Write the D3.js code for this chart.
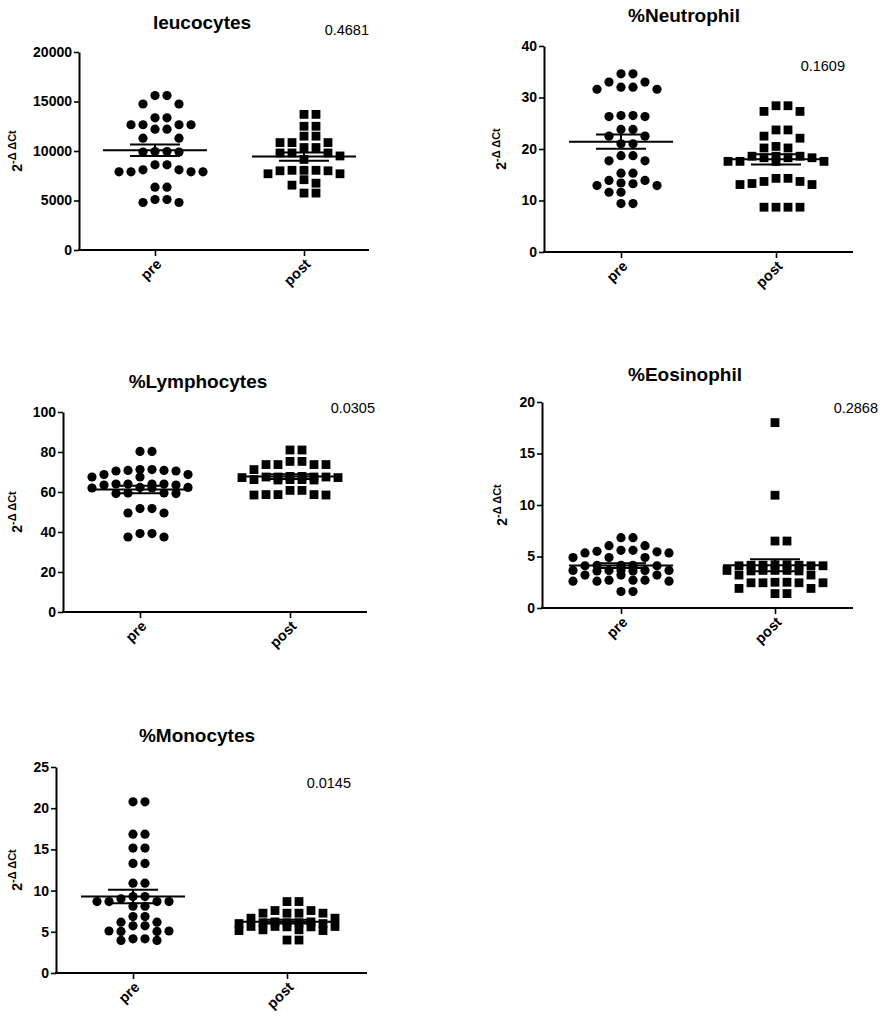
<!DOCTYPE html>
<html>
<head>
<meta charset="utf-8">
<script src="https://cdn.jsdelivr.net/npm/d3@7"></script>
<style>
  body { margin: 0; background: #fff; }
  svg { display: block; font-family: "Liberation Sans", Arial, sans-serif; }
</style>
</head>
<body>
<div id="chart"></div>
<script>
// ── Data ──────────────────────────────────────────────────────────────────
const GROUPS   = ['pre', 'post'];
const TITLES   = ['leucocytes', '%Neutrophil', '%Lymphocytes', '%Eosinophil', '%Monocytes'];
const P_VALUES = ['0.4681', '0.1609', '0.0305', '0.2868', '0.0145'];
const Y_MAX    = [20000, 40, 100, 20, 25];
const Y_TICKS  = [
  [0, 5000, 10000, 15000, 20000],
  [0, 10, 20, 30, 40],
  [0, 20, 40, 60, 80, 100],
  [0, 5, 10, 15, 20],
  [0, 5, 10, 15, 20, 25],
];

const leucoPre = [15600, 15600, 14750, 14750, 13350, 13350, 12650, 12650, 12650, 12650,
  12200, 12200, 11300, 11300, 9950, 9950, 9900, 9900, 8600, 8600, 8100, 8100,
  7900, 7900, 7900, 7900, 6350, 6350, 5100, 5100, 4800, 4800];
const leucoPost = [13700, 13700, 12500, 12500, 11500, 11500, 10850, 10850, 10850,
  10350, 10350, 9800, 9800, 9800, 9500, 9150, 8050, 8050, 8050, 8000, 8000,
  7700, 7700, 7100, 6750, 6550, 5750, 5750];

const neutroPre = [34.6, 34.6, 33.0, 33.0, 32.0, 32.0, 31.6, 31.6, 26.5, 26.5, 26.3, 26.3,
  23.8, 23.8, 22.5, 22.5, 21.0, 21.0, 18.7, 18.7, 17.7, 17.7, 15.3, 15.3,
  13.9, 13.9, 13.25, 12.9, 12.9, 13.4, 11.6, 11.6, 9.4, 9.4];
const neutroPost = [28.4, 28.4, 27.3, 27.3, 23.7, 23.7, 22.5, 22.1, 20.2, 20.5, 20.2,
  18.6, 18.6, 18.3, 18.3, 18.3, 18.6, 17.6, 17.6, 17.6, 17.6, 14.3, 14.3,
  13.7, 13.7, 13.1, 13.1, 13.3, 8.7, 8.7, 8.7, 8.7];

const lymphoPre = [80.3, 80.3, 71.2, 70.8, 70.8, 70.5, 70.5, 71.2, 68.7, 68.7, 67.5, 67.5,
  64, 64, 64, 64, 63.5, 63.5, 62.3, 62.3, 62, 62, 59.2, 59.2, 59.5, 59.5,
  51.7, 51.7, 49.5, 49.5, 39.2, 39.2, 37.5, 37.5];
const lymphoPost = [81, 81, 75.3, 75.3, 73.7, 73.7, 73.7, 73.7, 71.2, 67.8, 67.8,
  67.5, 67.5, 67.5, 67.5, 67.2, 67.2, 66.2, 66.2, 66, 66, 66.2, 60.8, 60.8,
  58.7, 58.7, 58.5, 58.5, 58.7];

const eosinoPre = [6.83, 6.83, 6.05, 6.05, 5.6, 5.6, 5.45, 5.35, 5.35, 5.5, 4.9, 4.9, 4.9,
  4.15, 4.15, 4.15, 4.1, 4.1, 3.65, 3.65, 3.65, 3.6, 3.6, 3.65, 3.65,
  3.2, 3.2, 3.2, 2.7, 2.7, 2.7, 2.6, 2.6, 2.6, 1.6, 1.6];
const eosinoPost = [18.0, 10.95, 6.5, 6.5, 4.15, 4.15, 4.15, 4.1, 4.1, 4.2, 4.2, 4.1,
  3.65, 3.65, 3.65, 3.6, 3.6, 3.65, 3.2, 3.2, 2.45, 2.45, 2.5, 2.5, 2.45, 2.45,
  1.9, 1.9, 1.4, 1.4];

const monoPre = [20.77, 20.77, 16.85, 16.85, 15.16, 15.16, 13.3, 13.3, 10.9, 10.9,
  9.27, 9.27, 9.0, 8.67, 8.67, 8.67, 8.67, 8.1, 8.1, 6.85, 6.85, 6.17, 6.17,
  5.73, 5.73, 5.1, 5.1, 5.05, 5.05, 4.15, 4.15, 3.95, 3.95];
const monoPost = [8.67, 8.67, 7.58, 7.58, 7.26, 7.26, 7.26, 7.26, 6.65, 6.65,
  6.2, 6.2, 6.1, 6.1, 6.1, 6.0, 6.0, 5.65, 5.65, 5.65, 5.6, 5.6,
  5.24, 5.24, 5.15, 5.15, 4.0, 4.0];

const SERIES = [
  [leucoPre, leucoPost],
  [neutroPre, neutroPost],
  [lymphoPre, lymphoPost],
  [eosinoPre, eosinoPost],
  [monoPre, monoPost],
];

// ── Layout (pixels) ───────────────────────────────────────────────────────
const LAYOUT = [
  { x0: 79,  x1: 369, yTop: 52,  yBot: 250, preX: 155, postX: 304, titleX: 202, titleY: 29,  pX: 369, pY: 35,  labelX: 17 },
  { x0: 544, x1: 853, yTop: 46,  yBot: 252, preX: 621, postX: 776, titleX: 684, titleY: 22,  pX: 845, pY: 71,  labelX: 501 },
  { x0: 63,  x1: 367, yTop: 412, yBot: 612, preX: 140, postX: 290, titleX: 198, titleY: 388, pX: 375, pY: 413, labelX: 17 },
  { x0: 542, x1: 853, yTop: 402, yBot: 608, preX: 621, postX: 775, titleX: 685, titleY: 381, pX: 878, pY: 413, labelX: 502 },
  { x0: 56,  x1: 367, yTop: 767, yBot: 973, preX: 133, postX: 287, titleX: 197, titleY: 742, pX: 351, pY: 788, labelX: 17 },
];

const WIDTH = 883, HEIGHT = 1024;
const SLOT = 12;        // horizontal spacing between columns of symbols
const OVERLAP = 9;      // min vertical gap within a column
const MAX_SLOT = 4;
const MEAN_HALF = 52;
const SEM_HALF = 25;
const FONT = '"Liberation Sans", Arial, sans-serif';

const svg = d3.select('#chart').append('svg')
  .attr('width', WIDTH).attr('height', HEIGHT);

svg.append('rect').attr('width', WIDTH).attr('height', HEIGHT).attr('fill', '#fff');

// Greedy column layout, roughly like Prism's scatter
function swarm(values, y, cx) {
  const pts = values.map(v => ({ v, py: y(v) })).sort((a, b) => a.py - b.py);
  const order = [0];
  for (let k = 1; k <= MAX_SLOT; k++) order.push(k, -k);
  const placed = [];
  pts.forEach(p => {
    let best = 0, bestGap = -1;
    for (const s of order) {
      const gap = d3.min(placed.filter(q => q.slot === s), q => Math.abs(q.py - p.py)) ?? Infinity;
      if (gap >= OVERLAP) { best = s; break; }
      if (gap > bestGap) { bestGap = gap; best = s; }
    }
    p.slot = best;
    p.px = cx + best * SLOT;
    placed.push(p);
  });
  return placed;
}

SERIES.forEach((series, i) => {
  const L = LAYOUT[i];
  const g = svg.append('g');

  const y = d3.scaleLinear().domain([0, Y_MAX[i]]).range([L.yBot, L.yTop]);
  const x = d3.scalePoint().domain(GROUPS).range([L.preX, L.postX]);

  // title
  g.append('text')
    .attr('x', L.titleX).attr('y', L.titleY)
    .attr('text-anchor', 'middle')
    .attr('font-size', 19).attr('font-weight', 'bold')
    .text(TITLES[i]);

  // p value
  g.append('text')
    .attr('x', L.pX).attr('y', L.pY)
    .attr('text-anchor', 'end')
    .attr('font-size', 14.5)
    .text(P_VALUES[i]);

  // y axis
  const yAxis = g.append('g')
    .attr('transform', `translate(${L.x0},0)`)
    .call(d3.axisLeft(y).tickValues(Y_TICKS[i]).tickSize(5).tickPadding(2)
      .tickSizeOuter(0).tickFormat(d3.format('d')));
  yAxis.select('.domain').attr('stroke-width', 2);
  yAxis.selectAll('.tick line').attr('stroke-width', 1.6);
  yAxis.selectAll('.tick text')
    .attr('font-size', 14).attr('font-weight', 'bold')
    .attr('font-family', FONT).attr('fill', '#000');

  // x axis: line spans the whole plot, ticks at the groups
  g.append('line')
    .attr('x1', L.x0 - 1).attr('x2', L.x1)
    .attr('y1', L.yBot).attr('y2', L.yBot)
    .attr('stroke', '#000').attr('stroke-width', 2);
  const xAxis = g.append('g')
    .attr('transform', `translate(0,${L.yBot})`)
    .call(d3.axisBottom(x).tickSize(6).tickSizeOuter(0));
  xAxis.select('.domain').remove();
  xAxis.selectAll('.tick line').attr('stroke-width', 1.6);
  xAxis.selectAll('.tick text')
    .attr('font-size', 14.5).attr('font-weight', 'bold')
    .attr('font-family', FONT).attr('fill', '#000')
    .attr('text-anchor', 'end')
    .attr('dy', null).attr('y', null)
    .attr('transform', 'translate(7,15) rotate(-45)');

  // y label 2^-ΔΔCt
  const cy = (L.yTop + L.yBot) / 2;
  const lab = g.append('text')
    .attr('transform', `translate(${L.labelX + 5},${cy}) rotate(-90)`)
    .attr('text-anchor', 'middle')
    .attr('font-weight', 'bold');
  lab.append('tspan').attr('font-size', 14).text('2');
  lab.append('tspan').attr('font-size', 11).attr('dy', -6).text('-Δ ΔCt');

  // points, mean and SEM per group
  GROUPS.forEach((grp, j) => {
    const vals = series[j];
    const cx = x(grp);
    const pts = swarm(vals, y, cx);

    if (j === 0) {
      g.append('g').selectAll('circle')
        .data(pts).join('circle')
        .attr('cx', d => d.px).attr('cy', d => d.py)
        .attr('r', 4.6).attr('fill', '#000');
    } else {
      g.append('g').selectAll('rect')
        .data(pts).join('rect')
        .attr('x', d => d.px - 4.4).attr('y', d => d.py - 4.4)
        .attr('width', 8.8).attr('height', 8.8).attr('fill', '#000');
    }

    const m = d3.mean(vals);
    const sem = d3.deviation(vals) / Math.sqrt(vals.length);
    const stats = g.append('g').attr('stroke', '#000').attr('stroke-width', 2);
    stats.append('line')
      .attr('x1', cx - MEAN_HALF).attr('x2', cx + MEAN_HALF)
      .attr('y1', y(m)).attr('y2', y(m));
    [m - sem, m + sem].forEach(v => {
      stats.append('line')
        .attr('x1', cx - SEM_HALF).attr('x2', cx + SEM_HALF)
        .attr('y1', y(v)).attr('y2', y(v));
    });
    stats.append('line')
      .attr('x1', cx).attr('x2', cx)
      .attr('y1', y(m - sem)).attr('y2', y(m + sem));
  });
});
</script>
</body>
</html>
